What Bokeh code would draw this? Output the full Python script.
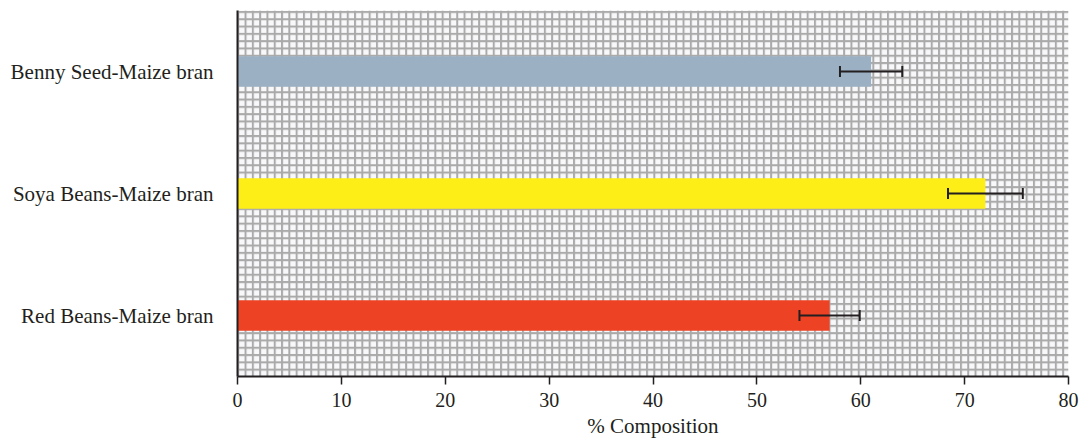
from bokeh.plotting import figure
from bokeh.models import ColumnDataSource, Whisker, BoxAnnotation, FixedTicker
from bokeh.embed import file_html
from bokeh.resources import INLINE

categories = ["Red Beans-Maize bran", "Soya Beans-Maize bran", "Benny Seed-Maize bran"]
values = [57.0, 72.0, 61.0]
errors = [2.9, 3.6, 3.0]
colors = ["#ee4224", "#fcee16", "#9bb1c3"]
x_ticks = [0, 10, 20, 30, 40, 50, 60, 70, 80]

src = ColumnDataSource(dict(
    cat=categories, val=values, color=colors,
    lower=[v - e for v, e in zip(values, errors)],
    upper=[v + e for v, e in zip(values, errors)],
))

FONT = "Liberation Serif"
TXT = "#231f20"

p = figure(y_range=categories, x_range=(0, 80), width=1080, height=440,
           output_backend="svg", toolbar_location=None,
           min_border_left=237, min_border_right=12, min_border_top=10, min_border_bottom=64)

p.add_layout(BoxAnnotation(fill_color="#f8f8fa", fill_alpha=1.0, line_color=None,
                           hatch_pattern="+", hatch_color="#aaaaaa", hatch_scale=7.3,
                           hatch_weight=2.0, hatch_alpha=1.0, level="underlay"))

p.hbar(y="cat", right="val", left=0, height=0.25, color="color", line_color=None, source=src)

wh = Whisker(source=src, base="cat", lower="lower", upper="upper", dimension="width",
             line_color=TXT, line_width=2, level="overlay")
for head in (wh.upper_head, wh.lower_head):
    head.size = 11
    head.line_color = TXT
    head.line_width = 2
p.add_layout(wh)

p.outline_line_color = None
p.background_fill_color = "white"
p.ygrid.grid_line_color = None
p.xgrid.ticker = FixedTicker(ticks=x_ticks)
p.xgrid.grid_line_color = "#333333"
p.xgrid.grid_line_dash = "1 9"
p.xgrid.grid_line_width = 1

p.xaxis.ticker = FixedTicker(ticks=x_ticks)
p.xaxis.axis_label = "% Composition"
p.xaxis.axis_label_text_font = FONT
p.xaxis.axis_label_text_font_style = "normal"
p.xaxis.axis_label_text_font_size = "21px"
p.xaxis.axis_label_text_color = TXT
p.xaxis.axis_label_standoff = 4
p.xaxis.minor_tick_line_color = None
p.xaxis.major_tick_in = 0
p.xaxis.major_tick_out = 8

for ax in (p.xaxis, p.yaxis):
    ax.axis_line_color = TXT
    ax.axis_line_width = 2
    ax.major_tick_line_color = TXT
    ax.major_tick_line_width = 1.5
    ax.major_label_text_font = FONT
    ax.major_label_text_font_size = "20px"
    ax.major_label_text_color = TXT

p.yaxis.major_label_text_font_size = "21px"
p.xaxis.major_label_standoff = 8
p.yaxis.major_tick_line_color = None
p.yaxis.minor_tick_line_color = None
p.yaxis.major_label_standoff = 18

open("out.html", "w").write(file_html(p, INLINE))
